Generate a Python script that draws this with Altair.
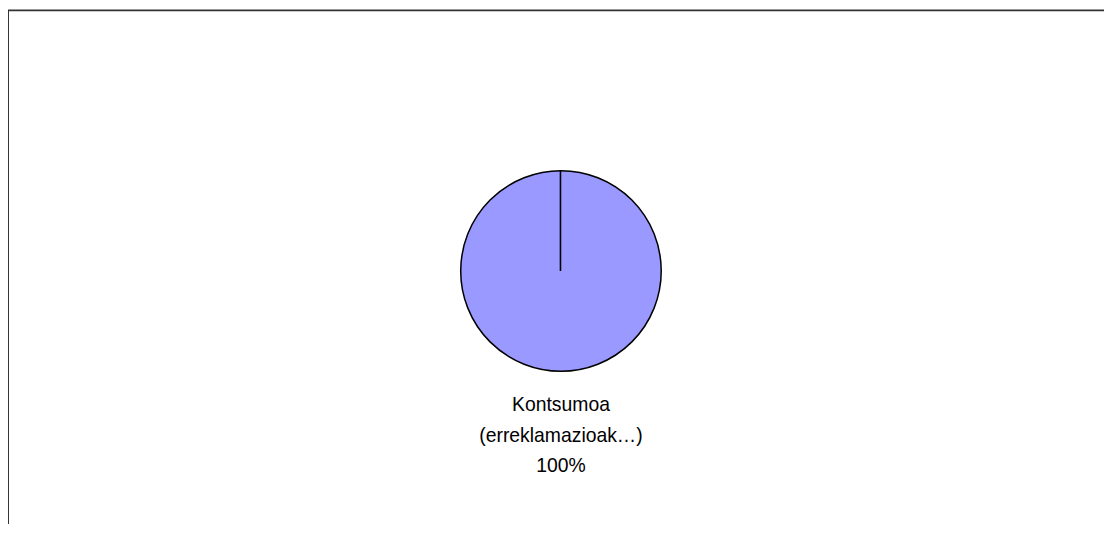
import altair as alt
import pandas as pd

categories = ["Kontsumoa\n(erreklamazioak…)"]
values = [100]
colors = ["#9999FF"]

df = pd.DataFrame({"category": categories, "value": values})

W, H = 1104, 518
cx, cy, r = 557, 263, 101

base = alt.Chart(df)

pie = base.mark_arc(outerRadius=r, stroke="#000000", strokeWidth=1.5).encode(
    theta=alt.Theta("value:Q", stack=True),
    color=alt.Color("category:N", scale=alt.Scale(range=colors), legend=None),
    x=alt.value(cx),
    y=alt.value(cy),
)

edge = base.mark_rule(color="#000000", strokeWidth=1.6).encode(
    x=alt.value(cx - 0.5), y=alt.value(cy), y2=alt.value(cy - r)
)

labels = base.transform_joinaggregate(total="sum(value)").transform_calculate(
    label="datum.category + '\\n' + format(datum.value / datum.total, '.0%')"
).mark_text(
    font="Liberation Sans", fontSize=19.5, lineBreak="\n", lineHeight=31,
    align="center", baseline="alphabetic", color="#000000"
).encode(text="label:N", x=alt.value(cx), y=alt.value(404))

frame_left = base.mark_rule(color="#333333", strokeWidth=2).encode(
    x=alt.value(0), y=alt.value(0), y2=alt.value(H)
)
frame_top = base.mark_rule(color="#333333", strokeWidth=2).encode(
    x=alt.value(0), x2=alt.value(W), y=alt.value(0.5)
)

chart = alt.layer(pie, edge, labels, frame_left, frame_top).properties(
    width=W, height=H, padding=0,
    autosize=alt.AutoSizeParams(type="none"),
).configure_view(stroke=None)

chart.save("out.html", embed_options={"renderer": "svg", "actions": False})
